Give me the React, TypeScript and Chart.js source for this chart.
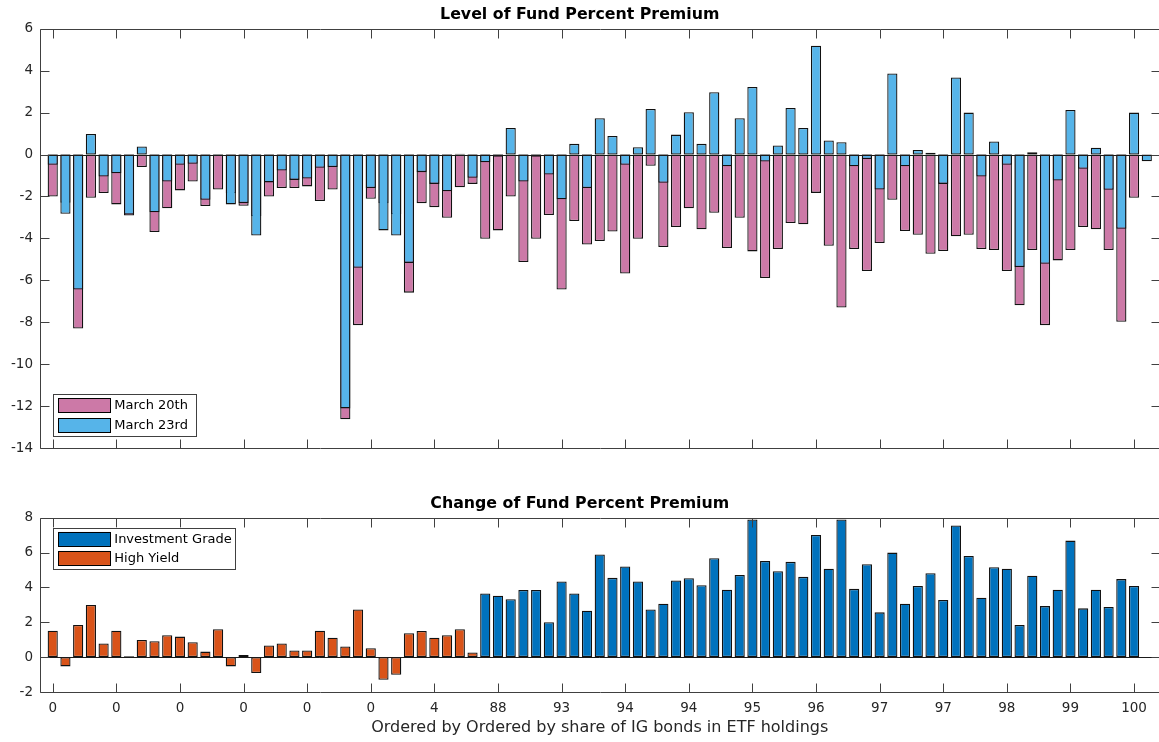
import React, { useEffect, useRef } from 'react';
import { Chart, registerables } from 'chart.js';

Chart.register(...registerables);

// ---------------- data ----------------
const march20: (number | null)[] = [
  -2.0, -2.3, -8.3, -2.06, -1.84, -2.38, -2.91, -0.6, -3.7, -2.56,
  -1.71, -1.29, -2.46, -1.67, -1.85, -2.44, -2.95, -2.0, -1.6, -1.6,
  -1.52, -2.22, -1.67, -12.63, -8.14, -2.11, -2.32, -2.85, -6.59, -2.32,
  -2.51, -3.02, -1.56, -1.4, -4.02, -3.62, -2.0, -5.13, -4.02, -2.89,
  -6.44, -3.17, -4.29, -4.13, -3.67, -5.68, -4.02, -0.54, -4.41, -3.46,
  -2.56, -3.57, -2.78, -4.46, -3.02, -4.62, -5.89, -4.51, -3.27, -3.33,
  -1.83, -4.35, -7.3, -4.51, -5.56, -4.22, -2.16, -3.65, -3.83, -4.73,
  -4.6, -3.9, -3.83, -4.51, -4.56, -5.56, -7.19, -4.56, -8.14, -5.05,
  -4.56, -3.46, -3.57, -4.56, -7.98, -2.06, null,
];

const march23: number[] = [
  -0.49, -2.83, -6.44, 0.98, -1.05, -0.89, -2.86, 0.38, -2.75, -1.29,
  -0.49, -0.44, -2.16, -0.07, -2.38, -2.32, -3.86, -1.33, -0.76, -1.21,
  -1.14, -0.63, -0.6, -12.11, -5.4, -1.6, -3.62, -3.86, -5.17, -0.84,
  -1.4, -1.75, 0.04, -1.11, -0.37, -0.1, 1.27, -1.29, -0.1, -0.95,
  -2.13, 0.51, -1.6, 1.73, 0.89, -0.49, 0.35, 2.17, -1.35, 0.95,
  2.02, 0.51, 2.97, -0.56, 1.73, 3.22, -0.33, 0.43, 2.22, 1.27,
  5.19, 0.67, 0.59, -0.56, -0.21, -1.67, 3.87, -0.56, 0.22, 0.09,
  -1.4, 3.68, 2.0, -1.05, 0.62, -0.49, -5.37, 0.11, -5.21, -1.24,
  2.13, -0.68, 0.32, -1.68, -3.54, 2.0, -0.32,
];

const premiumChange: number[] = [
  1.52, -0.53, 1.85, 2.99, 0.78, 1.52, 0.05, 0.99, 0.91, 1.26,
  1.18, 0.86, 0.32, 1.6, -0.53, 0.13, -0.91, 0.67, 0.78, 0.38,
  0.38, 1.52, 1.12, 0.61, 2.74, 0.51, -1.3, -1.01, 1.37, 1.5,
  1.12, 1.26, 1.6, 0.27, 3.66, 3.52, 3.33, 3.85, 3.85, 2.0,
  4.34, 3.66, 2.67, 5.89, 4.55, 5.2, 4.34, 2.74, 3.07, 4.4,
  4.53, 4.13, 5.68, 3.87, 4.72, 7.9, 5.52, 4.93, 5.47, 4.61,
  7.01, 5.07, 7.9, 3.92, 5.33, 2.57, 6.0, 3.07, 4.08, 4.82,
  3.28, 7.56, 5.81, 3.41, 5.16, 5.07, 1.85, 4.67, 2.93, 3.87,
  6.69, 2.8, 3.87, 2.88, 4.48, 4.08,
];

const highYieldCount = 34;

const xTickValues: number[] = [1, 6, 11, 16, 21, 26, 31, 36, 41, 46, 51, 56, 61, 66, 71, 76, 81, 86];
const xTickLabels: string[] = ['0', '0', '0', '0', '0', '0', '4', '88', '93', '94', '94', '95', '96', '97', '97', '98', '99', '100'];

const topTitle = 'Level of Fund Percent Premium';
const bottomTitle = 'Change of Fund Percent Premium';
const xAxisTitle = 'Ordered by Ordered by share of IG bonds in ETF holdings';

// ---------------- styles ----------------
const FAMILY = '"DejaVu Sans", "Liberation Sans", Arial, sans-serif';
const PINK = '#CC79A7';
const SKY = '#56B4E9';
const IG_BLUE = '#0072BD';
const HY_ORANGE = '#D95319';
const AXIS = '#404040';
const TEXT = '#262626';

type LegendCfg = {
  dx: number; dy: number; fromBottom: boolean; w: number; h: number;
  rowTop: number; rowGap: number;
  items: { label: string; color: string }[];
};

function makeAxesPlugin(legend: LegendCfg) {
  return {
    id: 'matlabAxes',
    afterDatasetsDraw(chart: any) {
      const { ctx, chartArea: a, scales } = chart;
      const xs = scales.x;
      const ys = scales.y;
      const h = (v: number) => Math.round(v) + 0.5;
      ctx.save();
      // baseline at zero
      const y0 = h(ys.getPixelForValue(0));
      ctx.strokeStyle = '#1a1a1a';
      ctx.lineWidth = 1;
      ctx.beginPath();
      ctx.moveTo(a.left, y0);
      ctx.lineTo(a.right, y0);
      ctx.stroke();
      // box
      ctx.strokeStyle = AXIS;
      const L = h(a.left), R = h(a.right), T = h(a.top), B = h(a.bottom);
      ctx.beginPath();
      ctx.rect(L, T, R - L, B - T);
      ctx.stroke();
      // ticks (inward, all four sides)
      const TL = 9;
      ctx.beginPath();
      for (const v of xTickValues) {
        const px = h(xs.getPixelForValue(v));
        ctx.moveTo(px, T); ctx.lineTo(px, T + TL);
        ctx.moveTo(px, B); ctx.lineTo(px, B - TL);
      }
      for (const t of ys.ticks) {
        const py = h(ys.getPixelForValue(t.value));
        ctx.moveTo(L, py); ctx.lineTo(L + TL, py);
        ctx.moveTo(R, py); ctx.lineTo(R - TL, py);
      }
      ctx.stroke();
      // legend
      const bx = a.left + legend.dx;
      const by = legend.fromBottom ? a.bottom - legend.dy - legend.h : a.top + legend.dy;
      ctx.fillStyle = '#ffffff';
      ctx.fillRect(bx, by, legend.w, legend.h);
      ctx.strokeStyle = AXIS;
      ctx.strokeRect(h(bx), h(by), Math.round(legend.w), Math.round(legend.h));
      ctx.font = `13px ${FAMILY}`;
      ctx.textBaseline = 'middle';
      ctx.textAlign = 'left';
      legend.items.forEach((it, i) => {
        const cy = by + legend.rowTop + i * legend.rowGap;
        const pw = 52, ph = 14;
        const pxl = bx + 5;
        ctx.fillStyle = it.color;
        ctx.fillRect(pxl, cy - ph / 2, pw, ph);
        ctx.strokeStyle = '#000';
        ctx.strokeRect(h(pxl), h(cy - ph / 2), pw, ph);
        ctx.fillStyle = '#000';
        ctx.fillText(it.label, bx + 61, cy + 0.5);
      });
      ctx.restore();
    },
  };
}

const barCommon = {
  borderColor: '#111111',
  borderWidth: 1.3,
  borderSkipped: false as const,
  grouped: false,
  barPercentage: 0.8,
  categoryPercentage: 1.0,
};

const titleOpts = (text: string) => ({
  display: true,
  text,
  color: '#000000',
  font: { family: FAMILY, size: 15.8, weight: 'bold' as const, lineHeight: 1.2 },
  padding: { top: 5.4, bottom: 4.4 },
});

const yAxis = (min: number, max: number) => ({
  min,
  max,
  ticks: { stepSize: 2, color: TEXT, font: { family: FAMILY, size: 13.5 }, padding: 7 },
  grid: { display: false, drawTicks: false },
  border: { display: false },
  afterFit: (s: any) => { s.width = 40; },
});

export default function App() {
  const topRef = useRef<HTMLCanvasElement | null>(null);
  const bottomRef = useRef<HTMLCanvasElement | null>(null);

  useEffect(() => {
    if (!topRef.current || !bottomRef.current) return;

    const top = new Chart(topRef.current, {
      type: 'bar',
      data: {
        datasets: [
          {
            label: 'March 20th',
            data: march20.map((v, i) => ({ x: i + 1, y: v })) as any,
            backgroundColor: PINK,
            order: 2,
            ...barCommon,
          },
          {
            label: 'March 23rd',
            data: march23.map((v, i) => ({ x: i + 1, y: v })) as any,
            backgroundColor: SKY,
            order: 1,
            ...barCommon,
          },
        ],
      },
      options: {
        responsive: false,
        maintainAspectRatio: false,
        animation: false,
        devicePixelRatio: 1,
        layout: { padding: { left: 0, right: 1.5, top: 0, bottom: 12 } },
        plugins: {
          legend: { display: false },
          tooltip: { enabled: false },
          title: titleOpts(topTitle),
        },
        scales: {
          x: {
            type: 'linear',
            offset: false,
            min: 0,
            max: 88,
            ticks: { display: false },
            grid: { display: false, drawTicks: false, offset: false },
            border: { display: false },
            afterFit: (s: any) => { s.height = 10; },
          },
          y: yAxis(-14, 6) as any,
        },
      } as any,
      plugins: [
        makeAxesPlugin({
          dx: 13.3, dy: 13, fromBottom: true, w: 143, h: 41.5, rowTop: 11.5, rowGap: 20,
          items: [
            { label: 'March 20th', color: PINK },
            { label: 'March 23rd', color: SKY },
          ],
        }),
      ],
    });

    const bottom = new Chart(bottomRef.current, {
      type: 'bar',
      data: {
        datasets: [
          {
            label: 'Investment Grade',
            data: premiumChange
              .map((v, i) => ({ x: i + 1, y: v }))
              .filter((_, i) => i >= highYieldCount) as any,
            backgroundColor: IG_BLUE,
            ...barCommon,
          },
          {
            label: 'High Yield',
            data: premiumChange
              .map((v, i) => ({ x: i + 1, y: v }))
              .filter((_, i) => i < highYieldCount) as any,
            backgroundColor: HY_ORANGE,
            ...barCommon,
          },
        ],
      },
      options: {
        responsive: false,
        maintainAspectRatio: false,
        animation: false,
        devicePixelRatio: 1,
        layout: { padding: { left: 0, right: 1.5, top: 0, bottom: 0 } },
        plugins: {
          legend: { display: false },
          tooltip: { enabled: false },
          title: titleOpts(bottomTitle),
        },
        scales: {
          x: {
            type: 'linear',
            offset: false,
            min: 0,
            max: 88,
            afterBuildTicks: (s: any) => {
              s.ticks = xTickValues.map((v) => ({ value: v }));
            },
            ticks: {
              autoSkip: false,
              maxRotation: 0,
              color: TEXT,
              font: { family: FAMILY, size: 13.5 },
              padding: 8,
              callback: (value: any) => {
                const k = xTickValues.indexOf(Number(value));
                return k >= 0 ? xTickLabels[k] : '';
              },
            },
            grid: { display: false, drawTicks: false, offset: false },
            border: { display: false },
            title: {
              display: true,
              text: xAxisTitle,
              color: TEXT,
              font: { family: FAMILY, size: 16, lineHeight: 1.2 },
              padding: { top: 0, bottom: 5 },
            },
            afterFit: (s: any) => { s.height = 50; },
          },
          y: yAxis(-2, 8) as any,
        },
      } as any,
      plugins: [
        makeAxesPlugin({
          dx: 13.3, dy: 10, fromBottom: false, w: 182, h: 41, rowTop: 11.2, rowGap: 19,
          items: [
            { label: 'Investment Grade', color: IG_BLUE },
            { label: 'High Yield', color: HY_ORANGE },
          ],
        }),
      ],
    });

    return () => {
      top.destroy();
      bottom.destroy();
    };
  }, []);

  return (
    <div
      style={{
        position: 'absolute',
        left: 0,
        top: 0,
        width: 1159,
        height: 742,
        overflow: 'hidden',
        background: '#ffffff',
      }}
    >
      <canvas
        ref={topRef}
        width={1161}
        height={470}
        style={{ position: 'absolute', left: 0, top: 0, width: 1161, height: 470 }}
      />
      <canvas
        ref={bottomRef}
        width={1161}
        height={253}
        style={{ position: 'absolute', left: 0, top: 489, width: 1161, height: 253 }}
      />
    </div>
  );
}
